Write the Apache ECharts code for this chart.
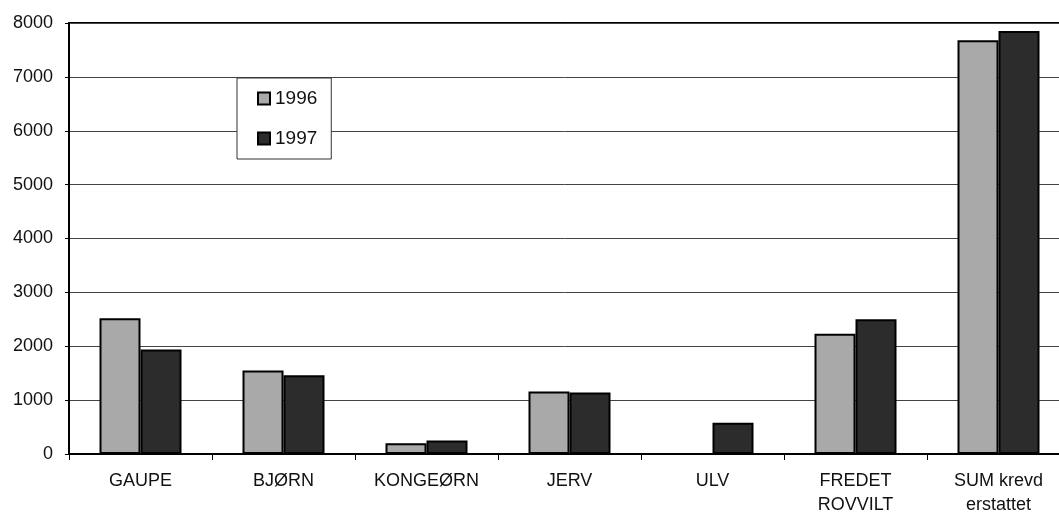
<!DOCTYPE html>
<html>
  <head>
    <meta charset="utf-8" />
    <title>ECharts</title>
    <script src="https://cdn.jsdelivr.net/npm/echarts@6/dist/echarts.min.js"></script>
  </head>
  <body style="margin:0">
    <style>
        html, body { margin: 0; background: #fff; }
        #main { width: 1059px; height: 513px; }
    </style>
    <div id="main"></div>
    <script type="text/javascript">
      // values
      var categories = ['GAUPE', 'BJØRN', 'KONGEØRN', 'JERV', 'ULV', 'FREDET\nROVVILT', 'SUM krevd\nerstattet'];
      var years = ['1996', '1997'];
      var values1996 = [2520, 1550, 200, 1160, null, 2230, 7680];
      var values1997 = [1940, 1460, 250, 1140, 580, 2500, 7850];
      var yTicks = [0, 1000, 2000, 3000, 4000, 5000, 6000, 7000, 8000];

      var myChart = echarts.init(document.getElementById('main'));
      var font = 'Liberation Sans, Arial, sans-serif';

      var option = {
          animation: false,
          textStyle: { fontFamily: font },
          legend: {
              data: years,
              orient: 'vertical',
              left: 237,
              top: 78,
              padding: [11, 14, 11, 20],
              itemGap: 21,
              itemWidth: 12,
              itemHeight: 12,
              icon: 'rect',
              backgroundColor: '#fff',
              borderColor: '#333',
              borderWidth: 1,
              textStyle: { fontSize: 19, color: '#111', fontFamily: font }
          },
          grid: {
              left: 69,
              width: 1001,
              top: 23,
              bottom: 59,
              show: true,
              borderColor: '#000',
              borderWidth: 2,
              containLabel: false,
              outerBoundsMode: 'none'
          },
          xAxis: {
              type: 'category',
              data: categories,
              axisLine: { lineStyle: { color: '#000', width: 2 } },
              axisTick: { show: true, length: 6, lineStyle: { color: '#000' } },
              axisLabel: {
                  fontSize: 18,
                  color: '#111',
                  margin: 15,
                  lineHeight: 24,
                  fontFamily: font
              }
          },
          yAxis: {
              type: 'value',
              min: 0,
              max: 8000,
              interval: 1000,
              axisLine: { show: true, lineStyle: { color: '#000', width: 2 } },
              axisTick: { show: true, length: 4, lineStyle: { color: '#000' } },
              axisLabel: {
                  fontSize: 18,
                  color: '#111',
                  margin: 16,
                  fontFamily: font,
                  formatter: function (v) { return String(v); },
                  customValues: yTicks
              },
              splitLine: { lineStyle: { color: '#444', width: 1 } }
          },
          series: [{
              name: years[0],
              type: 'bar',
              data: values1996,
              barWidth: 41,
              barGap: '0%',
              itemStyle: { color: '#a9a9a9', borderColor: '#000', borderWidth: 2 }
          }, {
              name: years[1],
              type: 'bar',
              data: values1997,
              barWidth: 41,
              barGap: '0%',
              itemStyle: { color: '#2c2c2c', borderColor: '#000', borderWidth: 2 }
          }]
      };

      myChart.setOption(option);
    </script>
  </body>
</html>
